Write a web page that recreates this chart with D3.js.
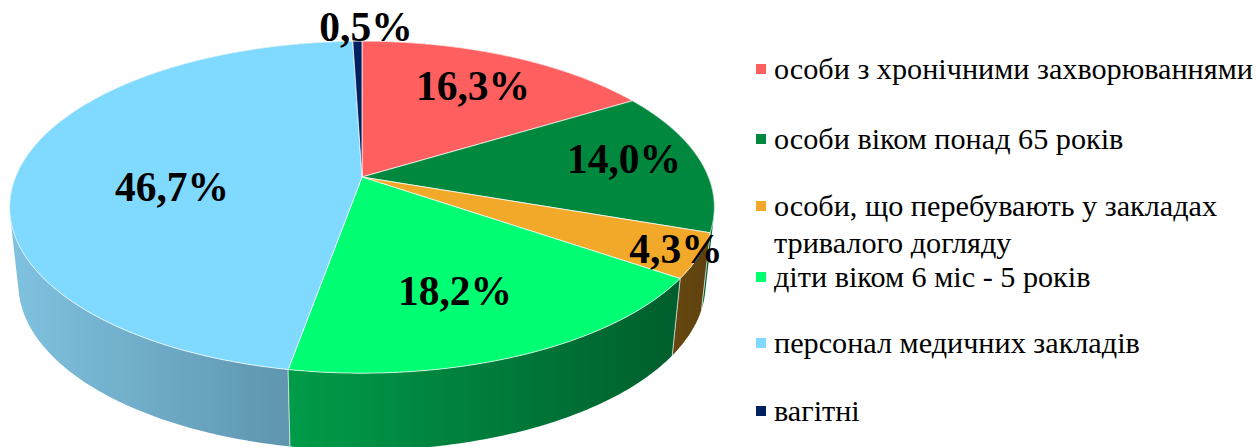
<!DOCTYPE html>
<html>
<head>
<meta charset="utf-8">
<script src="https://cdn.jsdelivr.net/npm/d3@7"></script>
<style>
  html, body { margin: 0; padding: 0; background: #fff; overflow: hidden; }
  text { font-family: "Liberation Serif", serif; fill: #000; }
</style>
</head>
<body>
<div id="chart"></div>
<script>
// data
var categories = [
	"особи з хронічними захворюваннями",
	"особи віком понад 65 років",
	"особи, що перебувають у закладах тривалого догляду",
	"діти віком 6 міс - 5 років",
	"персонал медичних закладів",
	"вагітні"
];
var values = [16.3, 14.0, 4.3, 18.2, 46.7, 0.5];
var valueLabels = ["16,3%", "14,0%", "4,3%", "18,2%", "46,7%", "0,5%"];

// styles and layout
var topColors = ["#ff5f5f", "#00883e", "#f2a92a", "#00ff73", "#80daff", "#002060"];
var sideStart = ["#b04040", "#005a2a", "#66470f", "#009c49", "#7fc2e0", "#001540"];
var sideEnd = ["#b04040", "#00602e", "#5e410f", "#005e2d", "#588ba3", "#001540"];
var labelPos = [[473, 86], [624, 159], [676, 249], [455, 291], [172, 187], [366, 27]];
var legendMarkY = [69, 139, 206, 277, 343, 411];
var legendLines = [
	["особи з хронічними захворюваннями"],
	["особи віком понад 65 років"],
	["особи, що перебувають у закладах", "тривалого догляду"],
	["діти віком 6 міс - 5 років"],
	["персонал медичних закладів"],
	["вагітні"]
];

var width = 1256;
var height = 447;

// tilted disc: unit circle goes through a perspective map, so the centre
// of the pie is not the centre of the ellipse
var cx = 362, cy = 177, persp = 0.1818, ax = 346.5, ay = 160.5;
var bottomScale = 0.975, bottomY = 254;

function projectTop(angle, r) {
	var u = Math.sin(angle) * r;
	var v = -Math.cos(angle) * r;
	var w = 1 - persp * v;
	return [cx + ax * u / w, cy + ay * v / w];
}

function projectBottom(angle) {
	var p = projectTop(angle, 1);
	return [cx + (p[0] - cx) * bottomScale, bottomY + (p[1] - cy)];
}

function rimAngles(d) {
	var n = Math.max(4, Math.ceil((d.endAngle - d.startAngle) * 60));
	return d3.range(n + 1).map(function(i) {
		return d.startAngle + (d.endAngle - d.startAngle) * i / n;
	});
}

// one quad per rim step, all wound the same way so they fill as one shape
function sidePath(angles) {
	var out = "";
	d3.range(angles.length - 1).forEach(function(i) {
		var q = [projectTop(angles[i], 1), projectTop(angles[i + 1], 1), projectBottom(angles[i + 1]), projectBottom(angles[i])];
		if (d3.polygonArea(q) < 0) q.reverse();
		out += line(q) + "Z";
	});
	return out;
}

var pie = d3.pie().sort(null).value(function(d) { return d; });
var piedata = pie(values);
var line = d3.line();

var svg = d3.select("#chart")
	.append("svg")
	.attr("width", width)
	.attr("height", height)
	.style("display", "block");

var defs = svg.append("defs");

// sides first, back slices before front ones
var order = piedata.slice().sort(function(a, b) {
	return projectTop((a.startAngle + a.endAngle) / 2, 1)[1] - projectTop((b.startAngle + b.endAngle) / 2, 1)[1];
});

order.forEach(function(d) {
	var i = d.index;
	var angles = rimAngles(d);
	var pts = angles.map(function(a) { return projectTop(a, 1); }).concat(angles.map(projectBottom));
	var xr = d3.extent(pts, function(p) { return p[0]; });

	var grad = defs.append("linearGradient")
		.attr("id", "side" + i)
		.attr("gradientUnits", "userSpaceOnUse")
		.attr("x1", xr[0]).attr("x2", xr[1])
		.attr("y1", 0).attr("y2", 0);
	grad.append("stop").attr("offset", "0%").attr("stop-color", sideStart[i]);
	grad.append("stop").attr("offset", "100%").attr("stop-color", sideEnd[i]);

	svg.append("path")
		.attr("d", sidePath(angles))
		.attr("fill", "url(#side" + i + ")");

	// white seam on the front edges between slices
	[d.startAngle, d.endAngle].forEach(function(a) {
		if (-Math.cos(a) > 0) {
			svg.append("path")
				.attr("d", line([projectTop(a, 1), projectBottom(a)]))
				.attr("stroke", "#fff")
				.attr("stroke-opacity", 0.6)
				.attr("stroke-width", 0.9);
		}
	});
});

// top faces
piedata.forEach(function(d) {
	var pts = [[cx, cy]].concat(rimAngles(d).map(function(a) { return projectTop(a, 1); }));
	svg.append("path")
		.attr("d", line(pts) + "Z")
		.attr("fill", topColors[d.index])
		.attr("stroke", "#fff")
		.attr("stroke-opacity", 0.8)
		.attr("stroke-width", 0.9);
});

// value labels
svg.selectAll(".value")
	.data(valueLabels)
	.enter()
	.append("text")
	.attr("class", "value")
	.attr("x", function(d, i) { return labelPos[i][0]; })
	.attr("y", function(d, i) { return labelPos[i][1]; })
	.attr("dy", "0.34em")
	.attr("text-anchor", "middle")
	.attr("font-size", 41.5)
	.attr("font-weight", "bold")
	.text(function(d) { return d; });

// legend
categories.forEach(function(c, i) {
	svg.append("rect")
		.attr("x", 756)
		.attr("y", legendMarkY[i] - 5)
		.attr("width", 10)
		.attr("height", 10)
		.attr("fill", topColors[i]);

	legendLines[i].forEach(function(t, j) {
		svg.append("text")
			.attr("x", 774)
			.attr("y", legendMarkY[i] + 10 + j * 37)
			.attr("font-size", 30.2)
			.text(t);
	});
});
</script>
</body>
</html>
